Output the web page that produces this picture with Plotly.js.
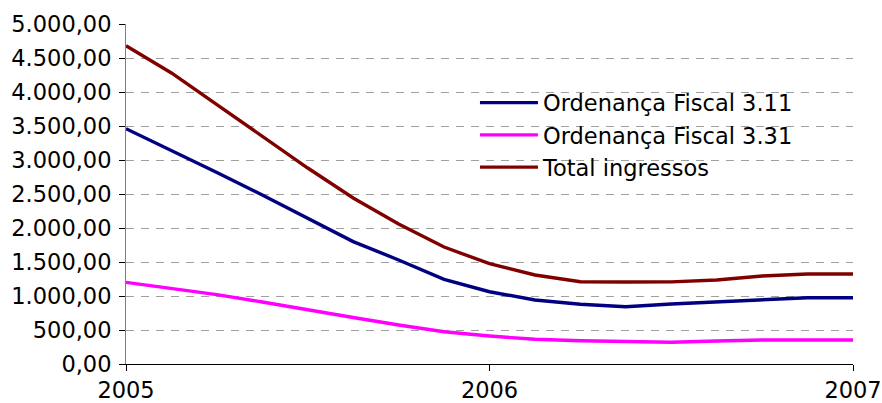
<!DOCTYPE html>
<html>
<head>
<meta charset="utf-8">
<script src="https://cdn.plot.ly/plotly-3.0.1.min.js"></script>
<style>html,body{margin:0;padding:0;background:#fff}#chart{width:882px;height:403px}</style>
</head>
<body>
<div id="chart"></div>
<script>
// x positions: 17 points spanning 2005 to 2007
var xVals = [2005, 2005.125, 2005.25, 2005.375, 2005.5, 2005.625, 2005.75, 2005.875,
             2006, 2006.125, 2006.25, 2006.375, 2006.5, 2006.625, 2006.75, 2006.875, 2007];
var fiscal311 = [3460, 3140, 2815, 2485, 2140, 1800, 1530, 1245,
                 1063, 941, 878, 843, 882, 916, 941, 975, 975];
var fiscal331 = [1200, 1109, 1020, 912, 794, 684, 573, 475,
                 412, 363, 343, 328, 319, 338, 353, 353, 353];
var totalIngressos = [4680, 4280, 3814, 3353, 2882, 2441, 2059, 1720,
                      1475, 1309, 1210, 1205, 1208, 1235, 1294, 1323, 1323];
var seriesNames = ['Ordenança Fiscal 3.11', 'Ordenança Fiscal 3.31', 'Total ingressos'];
var xTicks = [2005, 2006, 2007];
var yTicks = [0, 500, 1000, 1500, 2000, 2500, 3000, 3500, 4000, 4500, 5000];

var colors = ['#000080', '#FF00FF', '#800000'];
var data = [fiscal311, fiscal331, totalIngressos].map(function (ys, i) {
  return {
    x: xVals, y: ys, name: seriesNames[i], type: 'scatter', mode: 'lines',
    line: {color: colors[i], width: 3.4}
  };
});

var layout = {
  width: 882, height: 403,
  margin: {l: 126, r: 29, t: 24, b: 39},
  paper_bgcolor: '#fff', plot_bgcolor: '#fff',
  separators: ',.',
  font: {family: 'DejaVu Sans, Verdana, sans-serif', size: 22.5, color: '#000'},
  showlegend: true,
  legend: {
    x: 0.48, y: 0.831, xanchor: 'left', yanchor: 'top',
    bgcolor: 'rgba(0,0,0,0)', font: {size: 22.5, color: '#000'},
    tracegroupgap: 0, itemwidth: 58
  },
  xaxis: {
    range: [2005, 2007], tickvals: xTicks, ticktext: xTicks.map(String),
    showgrid: false, zeroline: false, showline: true, linecolor: '#000', linewidth: 1,
    ticks: 'outside', ticklen: 6, tickcolor: '#000', tickfont: {size: 22.5}
  },
  yaxis: {
    range: [0, 5000], tickvals: yTicks, tickformat: ',.2f',
    showgrid: true, gridcolor: '#A0A0A0', griddash: '8px,7px', gridwidth: 1,
    zeroline: false, showline: true, linecolor: '#808080', linewidth: 1,
    ticks: 'outside', ticklen: 6, tickcolor: '#000', tickfont: {size: 22.5},
    ticklabelstandoff: 3
  }
};

Plotly.newPlot('chart', data, layout, {displayModeBar: false, staticPlot: true});
</script>
</body>
</html>
